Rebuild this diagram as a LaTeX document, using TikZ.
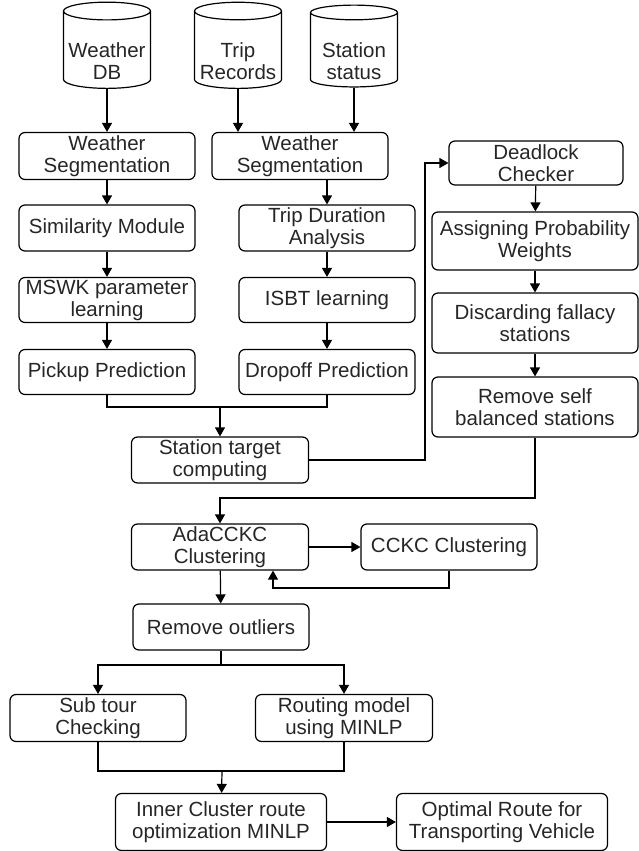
\documentclass[tikz,border=0pt]{standalone}
\usepackage{fontspec}
\setmainfont{Liberation Sans}
\usetikzlibrary{arrows.meta,shapes.geometric}

\begin{document}
\begin{tikzpicture}[x=1pt, y=-1pt, line width=1.2pt, >={Triangle[length=9pt,width=10pt]},
		font=\fontsize{20.5}{22}\selectfont,
		box/.style={draw, rounded corners=6pt, align=center, text=black!85, inner sep=0pt},
		db/.style={draw, cylinder, shape border rotate=90, aspect=0.23, align=center, text=black!85, inner sep=0pt, minimum width=87pt, minimum height=66pt}]
		\useasboundingbox (0,0) rectangle (639,851);
		\node[db] (W) at (107,50) {\rule{0pt}{37pt}Weather\\DB};
		\node[db] (T) at (238,50) {\rule{0pt}{37pt}Trip\\Records};
		\node[db] (S) at (354,50) {\rule{0pt}{37pt}Station\\status};
		\node[box, minimum width=176pt, minimum height=47pt] (WS) at (107,156) {Weather\\Segmentation};
		\node[box, minimum width=176pt, minimum height=47pt] (WT) at (300,156) {Weather\\Segmentation};
		\node[box, minimum width=176pt, minimum height=46pt] (SM) at (107,228) {Similarity Module};
		\node[box, minimum width=176pt, minimum height=46pt] (TD) at (327,228) {Trip Duration\\Analysis};
		\node[box, minimum width=176pt, minimum height=45pt] (MS) at (107,300) {MSWK parameter\\learning};
		\node[box, minimum width=176pt, minimum height=45pt] (IS) at (327,300) {ISBT learning};
		\node[box, minimum width=176pt, minimum height=45pt] (PP) at (107,372) {Pickup Prediction};
		\node[box, minimum width=176pt, minimum height=45pt] (DP) at (327,372) {Dropoff Prediction};
		\node[box, minimum width=177pt, minimum height=46pt] (ST) at (220,460) {Station target\\computing};
		\node[box, minimum width=174pt, minimum height=44pt] (DC) at (536,163) {Deadlock\\Checker};
		\node[box, minimum width=206pt, minimum height=58pt] (AP) at (535,241) {Assigning Probability\\Weights};
		\node[box, minimum width=206pt, minimum height=60pt] (DF) at (535,323) {Discarding fallacy\\stations};
		\node[box, minimum width=206pt, minimum height=60pt] (RS) at (535,407) {Remove self\\balanced stations};
		\node[box, minimum width=177pt, minimum height=46pt] (AC) at (220,547) {AdaCCKC\\Clustering};
		\node[box, minimum width=176pt, minimum height=46pt] (CC) at (449,547) {CCKC Clustering};
		\node[box, minimum width=176pt, minimum height=46pt] (RO) at (221,627) {Remove outliers};
		\node[box, minimum width=176pt, minimum height=47pt] (SC) at (98,718) {Sub tour\\Checking};
		\node[box, minimum width=177pt, minimum height=47pt] (RM) at (344,718) {Routing model\\using MINLP};
		\node[box, minimum width=211pt, minimum height=57pt] (IC) at (221,822) {Inner Cluster route\\optimization MINLP};
		\node[box, minimum width=211pt, minimum height=57pt] (OR) at (502,822) {Optimal Route for\\Transporting Vehicle};
		\coordinate (m1) at (220,407);
		\coordinate (c1) at (425,460);
		\coordinate (c2) at (220,498);
		\coordinate (c3) at (273,588);
		\coordinate (s1) at (221,665);
		\coordinate (m2) at (222,771);
		\draw[->](W) to (WS);
		\draw[->](T.south) to (T.south |- WT.north);
		\draw[->](S.south) to (S.south |- WT.north);
		\draw[->](WS) to (SM);
		\draw[->](SM) to (MS);
		\draw[->](MS) to (PP);
		\draw[->](TD.north |- WT.south) to (TD);
		\draw[->](TD) to (IS);
		\draw[->](IS) to (DP);
		\draw(PP) |- (m1) -| (DP);
		\draw[->](m1) to (ST);
		\draw[->](ST.east) -- (c1) |- (DC.west);
		\draw[->](DC) to (AP);
		\draw[->](AP) to (DF);
		\draw[->](DF) to (RS);
		\draw[->](RS.south) |- (c2) -- (AC.north);
		\draw[->](AC) to (CC);
		\draw[->](CC.south) |- (c3) -- (c3 |- AC.south);
		\draw[->](AC) to (RO);
		\draw(RO) -- (s1);
		\draw[->](s1) -| (SC);
		\draw[->](s1) -| (RM);
		\draw(SC) |- (m2) -| (RM);
		\draw[->](m2) to (IC);
		\draw[->](IC) to (OR);
\end{tikzpicture}
\end{document}
